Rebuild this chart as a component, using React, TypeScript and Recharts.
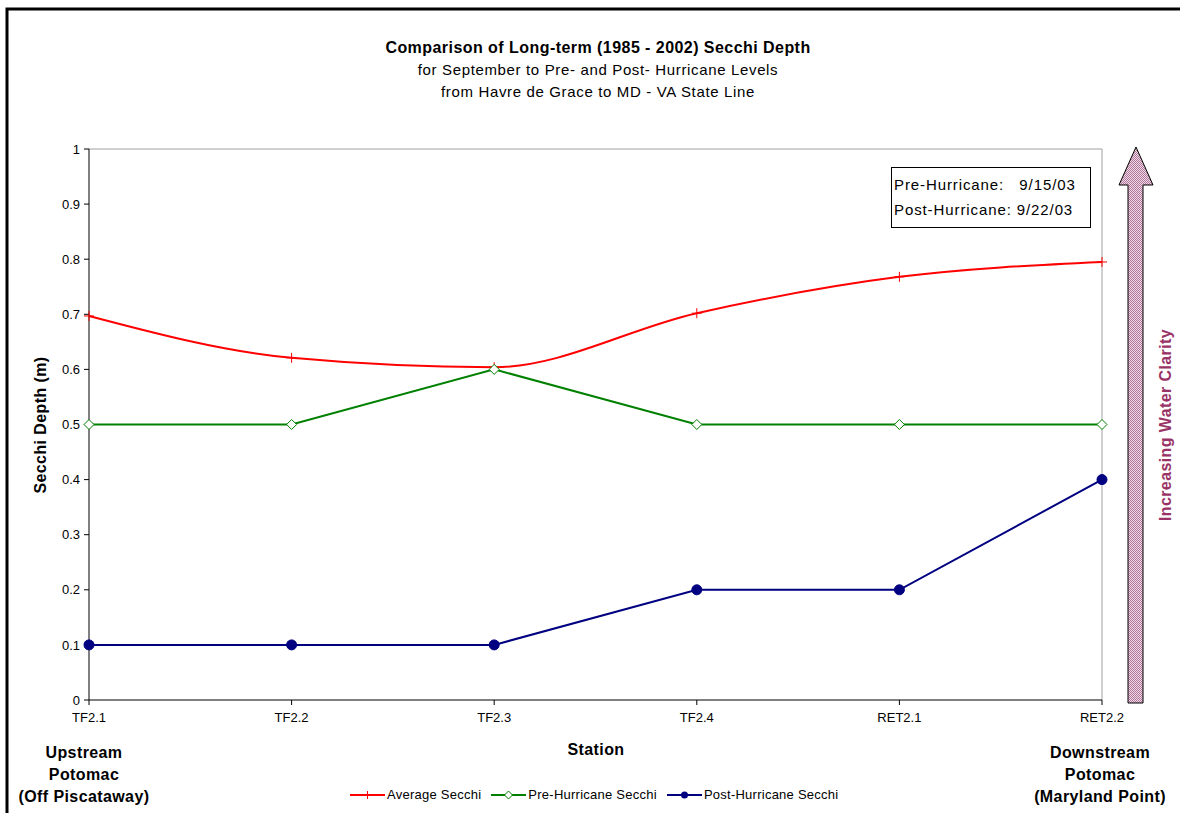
import React from "react";
import { LineChart, Line, XAxis, YAxis, ReferenceLine } from "recharts";

// Stations from upstream (Off Piscataway) to downstream (Maryland Point)
const stations = ["TF2.1", "TF2.2", "TF2.3", "TF2.4", "RET2.1", "RET2.2"];
// Secchi depth (m)
const averageSecchi = [0.697, 0.621, 0.604, 0.702, 0.768, 0.795];
const preHurricaneSecchi = [0.5, 0.5, 0.6, 0.5, 0.5, 0.5];
const postHurricaneSecchi = [0.1, 0.1, 0.1, 0.2, 0.2, 0.4];
const yTicks = [0, 0.1, 0.2, 0.3, 0.4, 0.5, 0.6, 0.7, 0.8, 0.9, 1];

const data = stations.map((s, i) => ({
  station: s,
  avg: averageSecchi[i],
  pre: preHurricaneSecchi[i],
  post: postHurricaneSecchi[i],
}));

const FONT = "'Liberation Sans', Arial, sans-serif";
const RED = "#ff0000";
const GREEN = "#008000";
const BLUE = "#000080";
const PLUM = "#993366";

const PlusDot = (props: any) => {
  const { cx, cy, index } = props;
  if (cx == null || cy == null) return null;
  return (
    <g key={`p${index}`}>
      <line x1={cx - 5} y1={cy} x2={cx + 5} y2={cy} stroke={RED} strokeWidth={1} />
      <line x1={cx} y1={cy - 5} x2={cx} y2={cy + 5} stroke={RED} strokeWidth={1} />
    </g>
  );
};

const DiamondDot = (props: any) => {
  const { cx, cy, index } = props;
  if (cx == null || cy == null) return null;
  return (
    <path
      key={`d${index}`}
      d={`M${cx},${cy - 5} L${cx + 5},${cy} L${cx},${cy + 5} L${cx - 5},${cy} Z`}
      fill="#ffffff"
      stroke={GREEN}
      strokeWidth={1}
    />
  );
};

const CircleDot = (props: any) => {
  const { cx, cy, index } = props;
  if (cx == null || cy == null) return null;
  return <circle key={`c${index}`} cx={cx} cy={cy} r={5} fill={BLUE} stroke={BLUE} />;
};

const legendItems = [
  { label: "Average Secchi", color: RED, kind: "plus" },
  { label: "Pre-Hurricane Secchi", color: GREEN, kind: "diamond" },
  { label: "Post-Hurricane Secchi", color: BLUE, kind: "circle" },
];

const ChartLegend = () => (
  <div
    style={{
      position: "absolute",
      left: 350,
      top: 787,
      display: "flex",
      fontFamily: FONT,
      fontSize: 13,
      letterSpacing: 0.25,
      lineHeight: "16px",
      color: "#000",
      whiteSpace: "nowrap",
    }}
  >
    {legendItems.map((it) => (
      <div key={it.label} style={{ display: "flex", alignItems: "center", marginRight: 10 }}>
        <svg width={35} height={12} style={{ marginRight: 2 }}>
          <line x1={0} y1={6} x2={35} y2={6} stroke={it.color} strokeWidth={2} />
          {it.kind === "plus" && (
            <g>
              <line x1={14} y1={6} x2={21} y2={6} stroke={it.color} />
              <line x1={17.5} y1={2} x2={17.5} y2={10} stroke={it.color} />
            </g>
          )}
          {it.kind === "diamond" && (
            <path d="M17.5,2 L21.5,6 L17.5,10 L13.5,6 Z" fill="#fff" stroke={it.color} />
          )}
          {it.kind === "circle" && <circle cx={17.5} cy={6} r={3.5} fill={it.color} />}
        </svg>
        <span>{it.label}</span>
      </div>
    ))}
  </div>
);

const boldLabel: React.CSSProperties = {
  position: "absolute",
  fontFamily: FONT,
  fontWeight: "bold",
  fontSize: 16,
  letterSpacing: 0.4,
  textAlign: "center",
  lineHeight: "22px",
  color: "#000",
  whiteSpace: "nowrap",
};

const tickStyle = { fill: "#000", fontSize: 13, fontFamily: FONT };

export default function App() {
  return (
    <div
      style={{
        position: "fixed",
        left: 0,
        top: 0,
        width: 1180,
        height: 813,
        overflow: "hidden",
        background: "#ffffff",
        fontFamily: FONT,
      }}
    >
      {/* title */}
      <div
        style={{
          position: "absolute",
          left: 248,
          top: 37,
          width: 700,
          textAlign: "center",
          color: "#000",
          lineHeight: "22px",
          whiteSpace: "nowrap",
        }}
      >
        <div style={{ fontWeight: "bold", fontSize: 16, letterSpacing: 0.45 }}>
          Comparison of Long-term (1985 - 2002) Secchi Depth
        </div>
        <div style={{ fontSize: 15, letterSpacing: 0.65 }}>for September to Pre- and Post- Hurricane Levels</div>
        <div style={{ fontSize: 15, letterSpacing: 0.65 }}>from Havre de Grace to MD - VA State Line</div>
      </div>

      <div style={{ position: "absolute", left: 0, top: 0 }}>
        <LineChart
          width={1180}
          height={813}
          data={data}
          margin={{ top: 149, right: 78, bottom: 83, left: 39 }}
        >
          <XAxis
            dataKey="station"
            height={30}
            axisLine={{ stroke: "#000", strokeWidth: 1 }}
            tickLine={{ stroke: "#000" }}
            tickSize={5}
            tickMargin={8}
            tick={tickStyle}
            interval={0}
          />
          <YAxis
            width={50}
            domain={[0, 1]}
            ticks={yTicks}
            axisLine={{ stroke: "#000", strokeWidth: 1 }}
            tickLine={{ stroke: "#000" }}
            tickSize={5}
            tickMargin={4}
            tick={tickStyle}
          />
          <ReferenceLine y={1} stroke="#a0a0a0" strokeWidth={1} />
          <ReferenceLine x="RET2.2" stroke="#a0a0a0" strokeWidth={1} />
          <Line
            type="monotone"
            dataKey="avg"
            name="Average Secchi"
            stroke={RED}
            strokeWidth={2}
            dot={PlusDot}
            isAnimationActive={false}
          />
          <Line
            type="linear"
            dataKey="pre"
            name="Pre-Hurricane Secchi"
            stroke={GREEN}
            strokeWidth={2}
            dot={DiamondDot}
            isAnimationActive={false}
          />
          <Line
            type="linear"
            dataKey="post"
            name="Post-Hurricane Secchi"
            stroke={BLUE}
            strokeWidth={2}
            dot={CircleDot}
            isAnimationActive={false}
          />
        </LineChart>
      </div>

      <ChartLegend />

      {/* x-axis title */}
      <div style={{ ...boldLabel, left: 536, top: 739, width: 120 }}>Station</div>

      {/* river end labels */}
      <div style={{ ...boldLabel, left: 0, top: 742, width: 168 }}>
        Upstream
        <br />
        Potomac
        <br />
        (Off Piscataway)
      </div>
      <div style={{ ...boldLabel, left: 1015, top: 742, width: 170 }}>
        Downstream
        <br />
        Potomac
        <br />
        (Maryland Point)
      </div>

      {/* date box */}
      <div
        style={{
          position: "absolute",
          left: 891,
          top: 167,
          width: 200,
          height: 61,
          border: "1px solid #000",
          fontSize: 15,
          letterSpacing: 0.9,
          lineHeight: "25px",
          color: "#000",
          paddingLeft: 2,
          paddingTop: 4,
          boxSizing: "border-box",
          whiteSpace: "pre",
        }}
      >
        <div>{"Pre-Hurricane:   9/15/03"}</div>
        <div>Post-Hurricane: 9/22/03</div>
      </div>

      {/* frame, rotated titles and clarity arrow */}
      <svg style={{ position: "absolute", left: 0, top: 0 }} width={1180} height={813}>
        <defs>
          <pattern id="dither" width={2} height={2} patternUnits="userSpaceOnUse">
            <rect width={2} height={2} fill="#f0d8e8" />
            <rect width={1} height={1} fill="#b07898" />
            <rect x={1} y={1} width={1} height={1} fill="#b07898" />
          </pattern>
        </defs>
        <polyline points="7,813 7,9 1180,9" fill="none" stroke="#000" strokeWidth={3} />
        <path
          d="M1136,147 L1153,185 L1143,185 L1143,703 L1128,703 L1128,185 L1119,185 Z"
          fill="url(#dither)"
          stroke="#000"
          strokeWidth={1}
        />
        <text
          x={0}
          y={0}
          transform="translate(46,425) rotate(-90)"
          textAnchor="middle"
          fontFamily={FONT}
          fontWeight="bold"
          fontSize={16}
          style={{ letterSpacing: 0.4 }}
          fill="#000"
        >
          Secchi Depth (m)
        </text>
        <text
          x={0}
          y={0}
          transform="translate(1171,425) rotate(-90)"
          textAnchor="middle"
          fontFamily={FONT}
          fontWeight="bold"
          fontSize={16}
          style={{ letterSpacing: 0.4 }}
          fill={PLUM}
        >
          Increasing Water Clarity
        </text>
      </svg>
    </div>
  );
}
